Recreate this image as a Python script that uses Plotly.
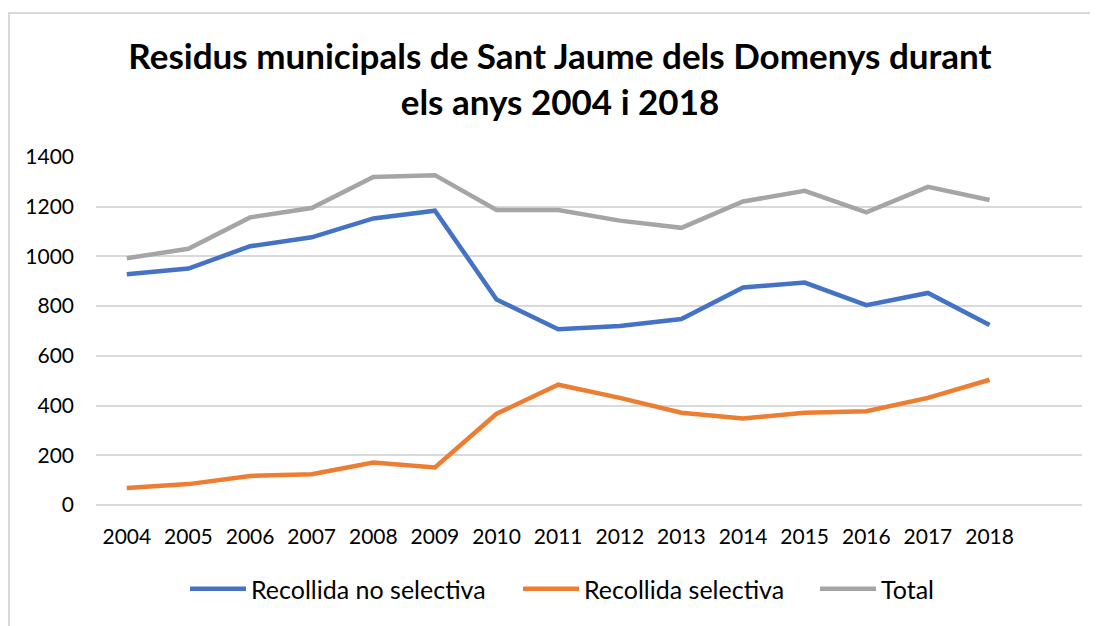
import plotly.graph_objects as go

years = ["2004", "2005", "2006", "2007", "2008", "2009", "2010", "2011",
         "2012", "2013", "2014", "2015", "2016", "2017", "2018"]
no_selectiva = [928, 951, 1041, 1077, 1153, 1184, 827, 707, 720, 748, 875, 895, 804, 853, 724]
selectiva = [68, 84, 117, 124, 171, 151, 367, 484, 431, 371, 348, 371, 377, 431, 504]
total = [993, 1031, 1157, 1195, 1320, 1327, 1187, 1187, 1144, 1115, 1221, 1264, 1177, 1280, 1227]

series = [
    ("Recollida no selectiva", no_selectiva, "#4472C4", 262),
    ("Recollida selectiva", selectiva, "#ED7D31", 226),
    ("Total", total, "#A5A5A5", None),
]

FONT = "Lato, Calibri, Carlito, sans-serif"
OFF = 8                      # page body margin
WIN_W, WIN_H = 1098, 626
W, H = WIN_W - OFF, WIN_H - OFF
L, R, T, B = 96, 1082, 157, 505   # plot area in window pixels

def px_x(p):
    return (p - L) / (R - L)

def px_y(p):
    return (B - p) / (B - T)

fig = go.Figure()
for name, vals, color, lw in series:
    kw = {}
    if lw:
        kw["legendwidth"] = lw
    fig.add_trace(go.Scatter(x=years, y=vals, name=name, mode="lines",
                             line=dict(color=color, width=4.5), **kw))

fig.update_layout(
    width=W, height=H,
    margin=dict(l=L - OFF, r=WIN_W - R, t=T - OFF, b=WIN_H - B, pad=0),
    paper_bgcolor="white", plot_bgcolor="white",
    font=dict(family=FONT, size=21, color="#000000"),
    title=dict(text="<b>Residus municipals de Sant Jaume dels Domenys durant<br>els anys 2004 i 2018</b>",
               x=(560 - OFF) / W, xanchor="center", y=1 - 61 / H, yanchor="middle",
               xref="container", yref="container",
               font=dict(family=FONT, size=35, color="#000000")),
    showlegend=True,
    legend=dict(orientation="h", x=px_x(185), xanchor="left", y=px_y(589), yanchor="middle",
                font=dict(family=FONT, size=25, color="#000000"), itemwidth=56,
                bgcolor="rgba(0,0,0,0)"),
    xaxis=dict(type="category", range=[-0.5, 15.5], showgrid=False, zeroline=False,
               showline=False, ticks="", ticklabelstandoff=17,
               tickfont=dict(family=FONT, size=21, color="#000000"), fixedrange=True),
    yaxis=dict(range=[0, 1400], dtick=200, tick0=0, showgrid=True, gridcolor="#D9D9D9",
               gridwidth=1.5, zeroline=True, zerolinecolor="#D9D9D9", zerolinewidth=1.5,
               showline=False, ticks="", ticklabelstandoff=21,
               tickfont=dict(family=FONT, size=21, color="#000000"), fixedrange=True),
    shapes=[
        dict(type="line", xref="paper", yref="paper", x0=px_x(9), x1=px_x(9),
             y0=px_y(12), y1=px_y(WIN_H + 5), line=dict(color="#D9D9D9", width=2)),
        dict(type="line", xref="paper", yref="paper", x0=px_x(8), x1=px_x(WIN_W + 5),
             y0=px_y(13), y1=px_y(13), line=dict(color="#D9D9D9", width=2)),
    ],
)

fig.write_html("out.html")
